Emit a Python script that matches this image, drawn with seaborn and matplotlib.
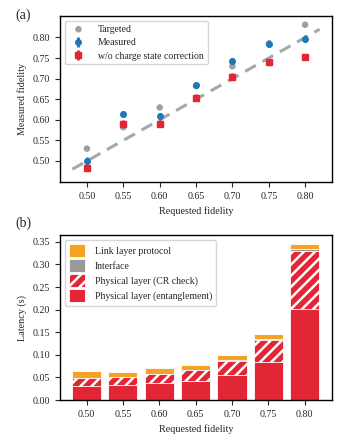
import seaborn as sns
import matplotlib.pyplot as plt
import pandas as pd

# (a) fidelity
requested = [0.50, 0.55, 0.60, 0.65, 0.70, 0.75, 0.80]
targeted = [0.530, 0.582, 0.630, 0.682, 0.730, 0.785, 0.831]
measured = [0.501, 0.614, 0.609, 0.685, 0.743, 0.785, 0.797]
measured_err = [0.008, 0.008, 0.008, 0.008, 0.008, 0.008, 0.008]
no_cs = [0.484, 0.591, 0.591, 0.654, 0.705, 0.741, 0.753]
no_cs_err = [0.008, 0.008, 0.008, 0.008, 0.008, 0.007, 0.008]
diag = [0.48, 0.82]

# (b) latency stacks
fid_labels = ['0.50', '0.55', '0.60', '0.65', '0.70', '0.75', '0.80']
entangle = [0.031, 0.033, 0.037, 0.043, 0.055, 0.085, 0.201]
cr_check = [0.017, 0.018, 0.020, 0.023, 0.032, 0.047, 0.129]
interface = [0.001, 0.001, 0.001, 0.001, 0.0015, 0.002, 0.004]
link = [0.015, 0.011, 0.012, 0.011, 0.011, 0.0115, 0.0116]

sns.set_style('ticks')
plt.rcParams['font.family'] = ['Liberation Serif', 'DejaVu Serif']
plt.rcParams['hatch.linewidth'] = 1.8
plt.rcParams['hatch.color'] = 'white'

blue = '#1f77b4'
red = '#e32636'
grey = '#a0a0a0'
orange = '#f7a125'

fig = plt.figure(figsize=(3.51, 4.46), dpi=100)
ax1 = fig.add_axes([0.171, 0.592, 0.775, 0.372])
ax2 = fig.add_axes([0.171, 0.103, 0.775, 0.370])

# top panel
sns.lineplot(x=diag, y=diag, ax=ax1, color='#a8a8a8', lw=2.2, ls=(0, (4, 2.5)), zorder=1)
sns.scatterplot(x=requested, y=targeted, ax=ax1, color=grey, s=22, edgecolor='none',
                label='Targeted', zorder=2)
ax1.errorbar(requested, measured, yerr=measured_err, fmt='o', ms=4, color=blue,
             elinewidth=2, capsize=0, label='Measured', zorder=3)
ax1.errorbar(requested, no_cs, yerr=no_cs_err, fmt='s', ms=4, color=red,
             elinewidth=2, capsize=0, label='w/o charge state correction', zorder=3)
ax1.set_xlim(0.463, 0.837)
ax1.set_ylim(0.449, 0.852)
ax1.set_xticks(requested)
ax1.set_xticklabels(fid_labels)
ax1.set_yticks([0.50, 0.55, 0.60, 0.65, 0.70, 0.75, 0.80])
ax1.set_xlabel('Requested fidelity', fontsize=7.3)
ax1.set_ylabel('Measured fidelity', fontsize=7.3)
ax1.legend(loc='upper left', fontsize=7, frameon=True, borderpad=0.4,
           handletextpad=1.0, labelspacing=0.45)

# bottom panel: overlaid cumulative bars
df = pd.DataFrame({'fid': fid_labels, 'ent': entangle, 'cr': cr_check,
                   'itf': interface, 'link': link})
df['c_cr'] = df['ent'] + df['cr']
df['c_itf'] = df['c_cr'] + df['itf']
df['c_link'] = df['c_itf'] + df['link']

common = dict(x='fid', data=df, ax=ax2, width=0.8, saturation=1, edgecolor='white', linewidth=0.6)
sns.barplot(y='c_link', color=orange, label='Link layer protocol', **common)
sns.barplot(y='c_itf', color='#999999', label='Interface', **common)
sns.barplot(y='c_cr', color=red, hatch='///', label='Physical layer (CR check)', **common)
sns.barplot(y='ent', color=red, label='Physical layer (entanglement)', **common)
ax2.set_xlim(-0.73, 6.75)
ax2.set_ylim(0, 0.365)
ax2.set_yticks([0.00, 0.05, 0.10, 0.15, 0.20, 0.25, 0.30, 0.35])
ax2.set_yticklabels(['0.00', '0.05', '0.10', '0.15', '0.20', '0.25', '0.30', '0.35'])
ax2.set_xlabel('Requested fidelity', fontsize=7.3)
ax2.set_ylabel('Latency (s)', fontsize=7.3)
ax2.legend(loc='upper left', fontsize=7, frameon=True, borderpad=0.4,
           handlelength=1.7, handleheight=1.7, handletextpad=1.0, labelspacing=0.2)

for ax in (ax1, ax2):
    ax.tick_params(labelsize=7.2, length=3.5, width=0.8, direction='out')
    for sp in ax.spines.values():
        sp.set_visible(True)
        sp.set_linewidth(1)
        sp.set_color('black')

fig.text(0.045, 0.966, '(a)', fontsize=10, va='center')
fig.text(0.045, 0.500, '(b)', fontsize=10, va='center')

fig.savefig('out.png', dpi=100)
